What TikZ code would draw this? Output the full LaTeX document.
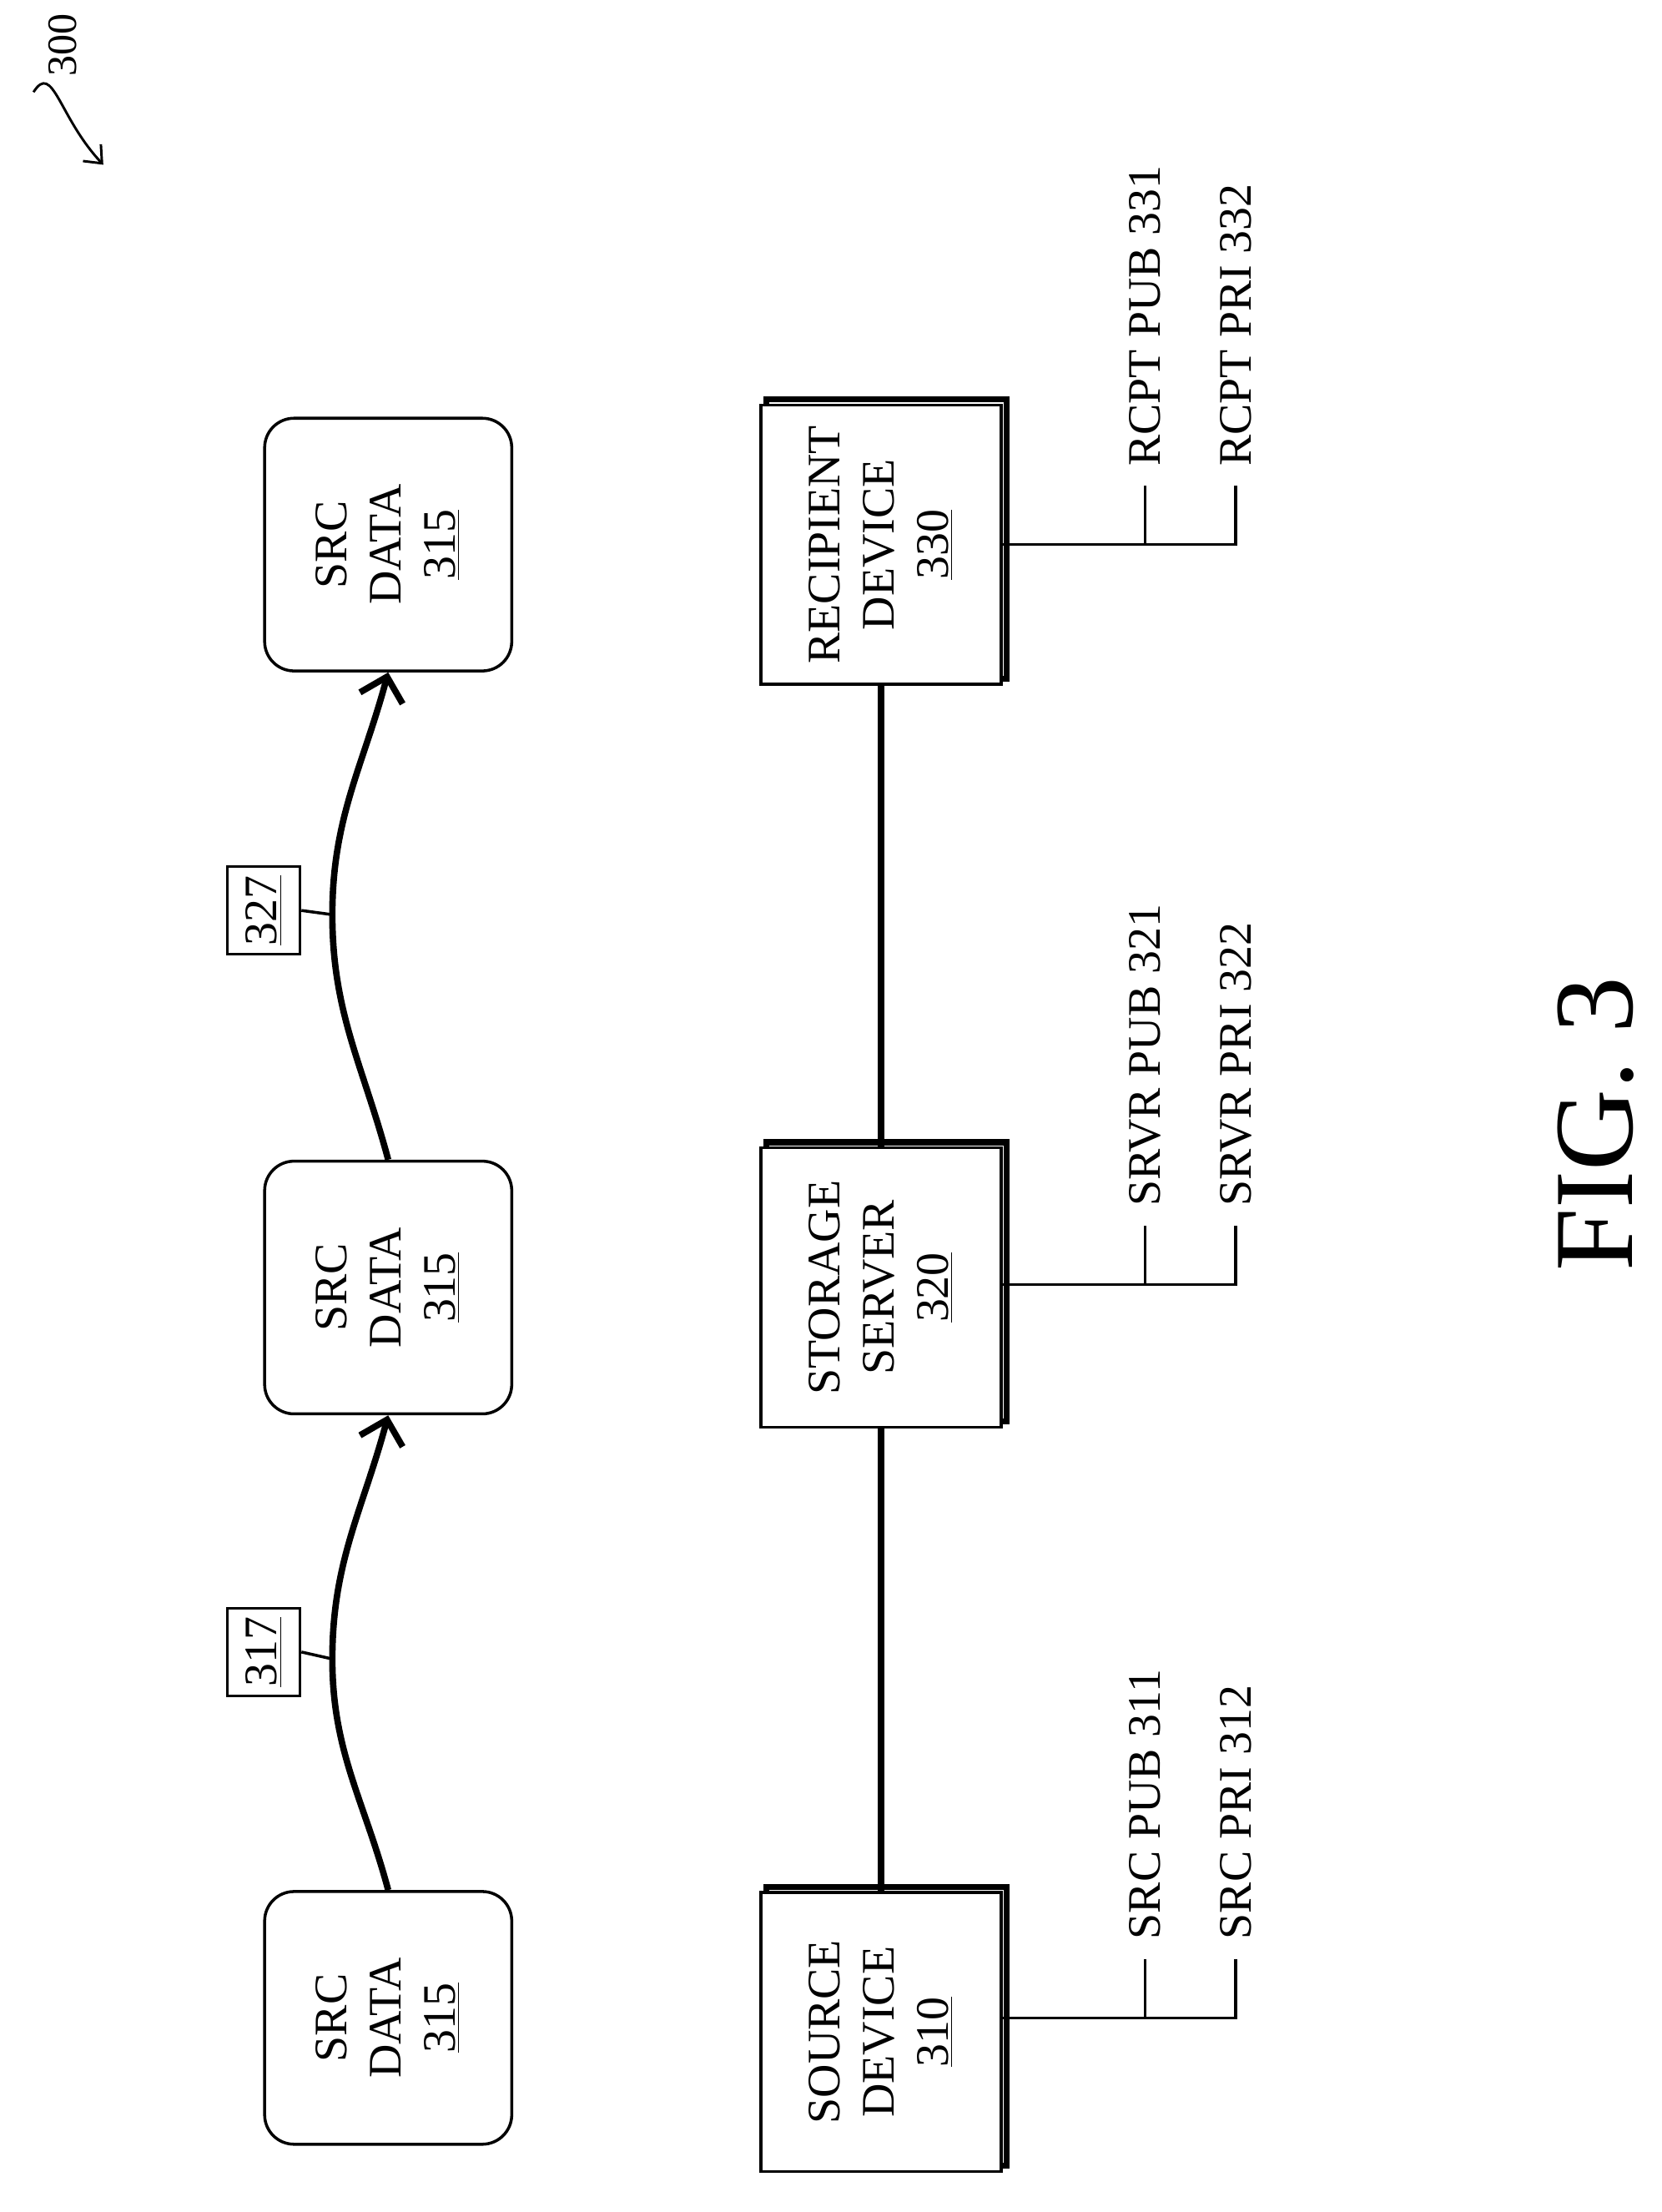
\documentclass[tikz,border=0pt]{standalone}
\usepackage{fontspec}
\setmainfont{Liberation Serif}
\usetikzlibrary{positioning,arrows.meta}

\tikzset{
  databox/.style={draw, line width=1.2pt, rounded corners=12pt, rotate=90, align=center,
    minimum width=3.62cm, minimum height=3.54cm, font=\fontsize{19}{22}\selectfont},
  devbox/.style={draw, line width=1.2pt, fill=white, rotate=90, align=center,
    minimum width=4cm, minimum height=3.44cm, font=\fontsize{19}{22}\selectfont},
  shadowbox/.style={draw, line width=2.4pt, rotate=90, minimum width=4cm, minimum height=3.44cm},
  tagbox/.style={draw, line width=1pt, rotate=90, minimum width=1.26cm, minimum height=1.04cm,
    inner sep=0pt, font=\fontsize{19}{22}\selectfont},
  keylabel/.style={rotate=90, anchor=west, font=\fontsize{19}{22}\selectfont},
  flow/.style={line width=2.6pt, -{Straight Barb[length=9pt,width=18pt,line width=2.6pt]}},
  link/.style={line width=1.2pt}
}

\begin{document}
\begin{tikzpicture}[x=0.02cm,y=0.02cm]
  \useasboundingbox (0,0) rectangle (1190,1584);

  % data copies
  \node[databox] (dataA) at (278,139) {SRC\\DATA\\\underline{315}};
  \node[databox] (dataB) at (278,662) {SRC\\DATA\\\underline{315}};
  \node[databox] (dataC) at (278,1194) {SRC\\DATA\\\underline{315}};

  % transfers
  \coordinate (midA) at (238,396);
  \coordinate (midB) at (238,929);
  \draw[flow] (dataA.east) to[out=105,in=-90] (midA) to[out=90,in=-105] (dataB.west);
  \draw[flow] (dataB.east) to[out=105,in=-90] (midB) to[out=90,in=-105] (dataC.west);
  \node[tagbox] (tagA) at (189,401) {\underline{317}};
  \node[tagbox] (tagB) at (189,932) {\underline{327}};
  \draw[link] (tagA.south) -- (midA);
  \draw[link] (tagB.south) -- (midB);

  % devices
  \foreach \name/\y/\txt in {source/129/{SOURCE\\DEVICE\\\underline{310}},
                            server/662/{STORAGE\\SERVER\\\underline{320}},
                            rcpt/1194/{RECIPIENT\\DEVICE\\\underline{330}}} {
    \node[shadowbox] at (635,\y+4) {};
    \node[devbox] (\name) at (631,\y) {\txt};
  }
  \draw[line width=2.6pt] (source.east) -- (server.west);
  \draw[line width=2.6pt] (server.east) -- (rcpt.west);

  % keys
  \foreach \name/\y/\pub/\pri in {source/139/SRC PUB 311/SRC PRI 312,
                                  server/664/SRVR PUB 321/SRVR PRI 322,
                                  rcpt/1194/RCPT PUB 331/RCPT PRI 332} {
    \coordinate (\name-k) at (885,\y);
    \draw[link] (\name.south |- \name-k) -- (\name-k) -- ++(0,42);
    \draw[link] (820,\y) -- ++(0,42);
    \node[keylabel] (\name-pub) at (820,\y+50) {\pub};
    \node[keylabel] (\name-pri) at (885,\y+50) {\pri};
  }

  \node[rotate=90, font=\fontsize{46}{50}\selectfont] (fig) at (1143,779) {FIG. 3};

  % reference numeral
  \node[rotate=90, font=\fontsize{17}{19}\selectfont] (ref) at (45,1552) {300};
  \coordinate (refstart) at (24,1518);
  \draw[line width=1pt, -{Straight Barb[length=6pt,width=10pt]}] (refstart)
    .. controls (38,1540) and (42,1500) .. (74,1466);
\end{tikzpicture}
\end{document}
